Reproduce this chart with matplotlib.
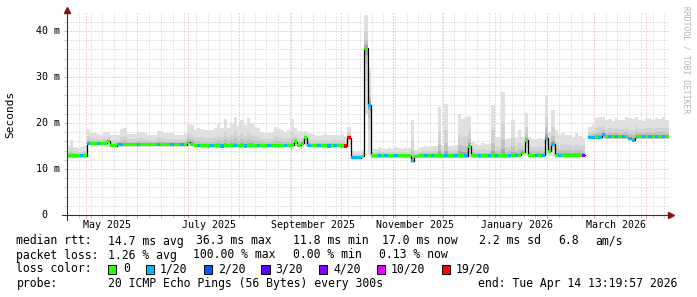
import numpy as np
import matplotlib
matplotlib.use("Agg")
import matplotlib.pyplot as plt
import matplotlib.dates as mdates
from matplotlib.patches import Rectangle
from datetime import datetime, timedelta

W, H = 697, 297
MONO = "DejaVu Sans Mono"
nan = np.nan

t_end = datetime(2026, 4, 14, 13, 19, 57)
t_start = t_end - timedelta(days=360)
bin_days = 2

# median rtt per 2-day bin (ms)
median = [
    12.9, 12.9, 12.9, 12.9, 12.9, 12.9, 15.6, 15.6, 15.6, 15.6,
    15.6, 15.6, 16.0, 15.1, 15.1, 15.3, 15.3, 15.3, 15.3, 15.3,
    15.3, 15.3, 15.3, 15.3, 15.3, 15.3, 15.3, 15.3, 15.3, 15.3,
    15.3, 15.3, 15.3, 15.3, 15.3, 15.3, 15.8, 15.4, 15.2, 15.1,
    15.1, 15.1, 15.0, 15.1, 15.1, 15.1, 15.0, 15.1, 15.1, 15.1,
    15.1, 15.1, 15.1, 15.0, 15.1, 15.1, 15.1, 15.1, 15.1, 15.1,
    15.1, 15.1, 15.1, 15.1, 15.1, 15.2, 15.1, 15.2, 15.9, 15.2,
    15.6, 16.8, 15.2, 15.1, 15.1, 15.1, 15.1, 15.1, 15.0, 15.1,
    15.1, 15.1, 15.0, 15.0, 16.8, 12.5, 12.5, 12.5, 12.8, 36.3,
    23.9, 12.9, 12.9, 12.9, 12.9, 12.9, 12.9, 12.9, 12.9, 12.9,
    12.9, 12.9, 12.9, 11.8, 12.8, 12.9, 12.9, 12.9, 12.9, 12.9,
    12.9, 12.9, 12.9, 12.9, 12.9, 12.9, 12.9, 12.9, 12.9, 12.9,
    14.9, 12.9, 12.9, 12.9, 12.9, 12.9, 12.9, 12.9, 12.9, 12.9,
    12.9, 12.9, 12.9, 13.0, 13.0, 13.0, 13.6, 16.2, 13.0, 13.0,
    13.0, 13.0, 13.0, 16.7, 13.9, 15.4, 13.0, 13.0, 13.0, 13.0,
    13.0, 13.0, 13.0, 13.0, 13.0, nan, 16.9, 16.9, 16.9, 16.9,
    17.5, 17.0, 17.0, 17.0, 17.0, 17.0, 17.0, 17.0, 16.6, 16.3,
    17.0, 17.0, 17.0, 17.0, 17.0, 17.0, 17.0, 17.0, 17.0, 17.0,
]

# highest ping per bin (top of the smoke)
smoke_hi = [
    15.0, 16.3, 14.8, 14.6, 14.7, 15.0, 18.7, 17.8, 17.8, 17.6,
    17.4, 18.0, 18.0, 17.5, 17.5, 17.4, 18.8, 18.9, 17.6, 17.6,
    17.6, 18.1, 18.1, 17.8, 17.5, 17.5, 17.5, 18.2, 18.2, 17.8,
    17.8, 17.8, 17.5, 17.5, 17.5, 17.6, 19.7, 19.6, 18.5, 19.0,
    18.6, 18.5, 18.4, 18.5, 19.0, 19.9, 19.0, 20.8, 19.0, 20.0,
    21.4, 19.4, 20.6, 19.5, 21.0, 19.9, 19.2, 19.0, 18.0, 17.8,
    17.8, 18.0, 19.2, 18.8, 18.4, 18.0, 18.5, 20.8, 19.0, 18.2,
    18.0, 18.3, 17.8, 17.6, 17.5, 17.2, 17.4, 17.6, 17.3, 17.4,
    17.5, 17.4, 17.6, 17.0, 19.2, 14.1, 14.0, 14.0, 14.2, 43.5,
    32.0, 14.6, 14.4, 14.8, 14.5, 14.3, 14.6, 14.4, 14.7, 14.5,
    14.4, 14.6, 14.5, 20.6, 14.2, 14.6, 14.8, 15.0, 14.8, 14.9,
    15.0, 23.4, 15.2, 24.1, 15.0, 15.1, 15.3, 22.0, 20.9, 21.4,
    21.5, 15.8, 15.5, 15.3, 15.6, 15.4, 15.5, 23.9, 17.0, 17.0,
    26.8, 16.5, 16.8, 20.6, 17.0, 18.5, 17.0, 22.1, 17.0, 16.5,
    16.5, 16.8, 16.5, 26.1, 18.0, 22.8, 18.5, 17.5, 17.8, 17.5,
    17.5, 17.0, 17.8, 17.2, 16.8, nan, 19.2, 19.5, 21.0, 21.4,
    21.4, 20.6, 20.8, 20.4, 21.0, 20.6, 20.6, 21.2, 21.0, 20.8,
    21.2, 20.6, 20.4, 21.0, 20.8, 20.6, 21.0, 20.8, 21.2, 20.7,
]

# lowest ping per bin (bottom of the smoke)
smoke_lo = [
    12.5, 12.5, 12.5, 12.5, 12.5, 12.5, 15.2, 15.2, 15.2, 15.2,
    15.2, 15.2, 15.1, 14.7, 14.7, 14.9, 14.9, 14.9, 14.9, 14.9,
    14.9, 14.9, 14.9, 14.9, 14.9, 14.9, 14.9, 14.9, 14.9, 14.9,
    14.9, 14.9, 14.9, 14.9, 14.9, 14.9, 15.0, 15.0, 14.8, 14.7,
    14.7, 14.7, 14.7, 14.7, 14.7, 14.7, 14.7, 14.7, 14.7, 14.7,
    14.7, 14.7, 14.7, 14.7, 14.7, 14.7, 14.7, 14.7, 14.7, 14.7,
    14.7, 14.7, 14.7, 14.7, 14.7, 14.8, 14.7, 14.8, 15.0, 14.8,
    15.0, 15.0, 14.8, 14.7, 14.7, 14.7, 14.7, 14.7, 14.6, 14.7,
    14.7, 14.7, 14.6, 14.6, 14.8, 12.1, 12.1, 12.1, 12.4, 22.0,
    13.0, 12.5, 12.5, 12.5, 12.5, 12.5, 12.5, 12.5, 12.5, 12.5,
    12.5, 12.5, 12.5, 11.4, 12.4, 12.5, 12.5, 12.5, 12.5, 12.5,
    12.5, 12.5, 12.5, 12.5, 12.5, 12.5, 12.5, 12.5, 12.5, 12.5,
    12.7, 12.5, 12.5, 12.5, 12.5, 12.5, 12.5, 12.5, 12.5, 12.5,
    12.5, 12.5, 12.5, 12.6, 12.6, 12.6, 12.8, 13.0, 12.6, 12.6,
    12.6, 12.6, 12.6, 13.0, 12.8, 12.9, 12.6, 12.6, 12.6, 12.6,
    12.6, 12.6, 12.6, 12.6, 12.6, nan, 16.5, 16.5, 16.5, 16.5,
    16.6, 16.6, 16.6, 16.6, 16.6, 16.6, 16.6, 16.6, 16.2, 15.9,
    16.6, 16.6, 16.6, 16.6, 16.6, 16.6, 16.6, 16.6, 16.6, 16.6,
]

# lost pings out of 20 per bin
loss = [
    0, 0, 0, 0, 1, 0, 1, 0, 0, 1,
    0, 0, 0, 0, 0, 1, 1, 0, 0, 0,
    0, 1, 0, 0, 0, 0, 0, 1, 0, 0,
    0, 1, 0, 0, 1, 0, 0, 0, 0, 1,
    0, 0, 0, 1, 0, 0, 1, 0, 0, 0,
    1, 0, 0, 1, 0, 0, 0, 1, 0, 0,
    1, 0, 0, 0, 0, 1, 0, 0, 0, 0,
    0, 0, 1, 0, 0, 1, 0, 0, 1, 0,
    1, 0, 0, 19, 19, 1, 1, 1, 0, 0,
    1, 0, 0, 1, 0, 1, 0, 0, 1, 0,
    0, 0, 0, 1, 0, 0, 0, 1, 0, 1,
    0, 0, 0, 1, 0, 0, 1, 0, 0, 1,
    0, 0, 0, 1, 0, 0, 1, 0, 1, 0,
    0, 0, 1, 0, 1, 0, 0, 0, 0, 0,
    1, 0, 1, 1, 0, 1, 0, 1, 0, 0,
    0, 0, 0, 0, 4, 0, 1, 1, 0, 1,
    1, 0, 1, 0, 1, 0, 1, 0, 1, 1,
    0, 0, 1, 0, 1, 0, 1, 0, 1, 0,
]

loss_levels = [0, 1, 2, 3, 4, 10, 19]
loss_labels = ["0", "1/20", "2/20", "3/20", "4/20", "10/20", "19/20"]
loss_colors = ["#26ff00", "#00b8ff", "#0059ff", "#5e00ff", "#7e00ff", "#dd00ff", "#ff0000"]

ytick_vals = [0, 10, 20, 30, 40]
ytick_labels = ["0  ", "10 m", "20 m", "30 m", "40 m"]
xlabel_months = [(2025, 5, "May 2025"), (2025, 7, "July 2025"), (2025, 9, "September 2025"),
                 (2025, 11, "November 2025"), (2026, 1, "January 2026"), (2026, 3, "March 2026")]

stats_rows = [
    [("median rtt:", 16.4), ("14.7 ms avg", 108), ("36.3 ms max", 195.6), ("11.8 ms min", 293),
     ("17.0 ms now", 382), ("2.2 ms sd", 479), ("6.8", 558), ("am/s", 595.6)],
    [("packet loss:", 16.4), ("1.26 % avg", 108), ("100.00 % max", 193.3), ("0.00 % min", 293.3),
     ("0.13 % now", 379)],
    [("probe:", 16.4), ("20 ICMP Echo Pings (56 Bytes) every 300s", 108),
     ("end: Tue Apr 14 13:19:57 2026", 477.8)],
]
stats_y = [241, 255, 284]
legend_box_x = [108, 145.8, 203.6, 261.3, 319, 377, 442]
legend_text_x = [123, 160, 217.8, 275.6, 333, 391, 455.6]

median = np.array(median, float)
smoke_hi = np.array(smoke_hi, float)
smoke_lo = np.array(smoke_lo, float)
loss = np.array(loss)

x0 = mdates.date2num(t_start)
x1 = mdates.date2num(t_end)
edges = x0 + bin_days * np.arange(len(median) + 1)


def steps(v):
    return np.repeat(edges, 2)[1:-1], np.repeat(v, 2)


fig = plt.figure(figsize=(W / 100, H / 100), dpi=100)
ax = fig.add_axes([66.5 / W, 1 - 215 / H, 602 / W, 202 / H])
ymax = 202 / 4.6
ax.set_xlim(x0, x1)
ax.set_ylim(0, ymax)
for s in ax.spines.values():
    s.set_visible(False)

minor_col = "#cccccc"
major_col = "#eea0a0"

# grid: weekly (sundays) and monthly, 2 ms and 10 ms
months = []
d = datetime(t_start.year, t_start.month, 1)
while d <= t_end:
    if d >= t_start:
        months.append(mdates.date2num(d))
    d = datetime(d.year + (d.month == 12), d.month % 12 + 1, 1)
weeks = []
d = datetime(t_start.year, t_start.month, t_start.day) + timedelta(days=(6 - t_start.weekday()) % 7)
while d <= t_end:
    if d > t_start:
        weeks.append(mdates.date2num(d))
    d += timedelta(days=7)

ax.set_xticks(months)
ax.set_xticks(weeks, minor=True)
ax.set_yticks([10, 20, 30, 40])
ax.set_yticks([v for v in range(2, 44, 2) if v % 10], minor=True)
ax.tick_params(which="both", length=2, width=0.72, labelbottom=False, labelleft=False,
               left=True, right=False, direction="out")
ax.tick_params(which="major", color=major_col)
ax.tick_params(which="minor", color=minor_col)
ax.grid(which="major", color=major_col, lw=0.72, ls=(0, (1, 2)))
ax.grid(which="minor", color=minor_col, lw=0.72, ls=(0, (1, 2)))
ax.set_axisbelow(True)

# smoke
for frac, col in [(1.0, "#e0e0e0"), (0.5, "#d3d3d3"), (0.25, "#c2c2c2"), (0.1, "#a6a6a6")]:
    xs, yt = steps(median + (smoke_hi - median) * frac)
    _, yb = steps(median - (median - smoke_lo) * frac)
    ax.fill_between(xs, yb, yt, color=col, lw=0, zorder=2)

# median line + loss colour
xs, ym = steps(median)
ax.plot(xs, ym, color="black", lw=0.9, zorder=3)
for lv, col in zip(loss_levels, loss_colors):
    xs, ym = steps(np.where(loss == lv, median, np.nan))
    ax.fill_between(xs, ym - 0.33, ym + 0.33, color=col, lw=0, zorder=4)

# axes with arrows
axis_col = "#333333"
ax.plot([0, 0], [-5 / 202, 1.012], transform=ax.transAxes, color=axis_col, lw=0.8,
        clip_on=False, zorder=6)
ax.plot([-5 / 602, 1.004], [0, 0], transform=ax.transAxes, color=axis_col, lw=0.8,
        clip_on=False, zorder=6)
ax.plot([0], [205 / 202], marker="^", ms=4.2, color="#8b1010", transform=ax.transAxes,
        clip_on=False, zorder=7)
ax.plot([604.5 / 602], [0], marker=">", ms=4.2, color="#8b1010", transform=ax.transAxes,
        clip_on=False, zorder=7)

# tick labels
for v, lab in zip(ytick_vals, ytick_labels):
    ax.text(-6.5 / 602, v, lab, transform=ax.get_yaxis_transform(), ha="right", va="center",
            fontsize=7.2, family=MONO)
for yr, mo, lab in xlabel_months:
    xp = mdates.date2num(datetime(yr, mo, 1) + timedelta(days=13))
    ax.text(xp, -10 / 202, lab, transform=ax.get_xaxis_transform(), ha="center", va="center",
            fontsize=7.2, family=MONO)

fig.text(10 / W, 1 - 114 / H, "Seconds", rotation=90, ha="center", va="center",
         fontsize=8, family=MONO)
fig.text(686 / W, 1 - 60 / H, "RRDTOOL / TOBI OETIKER", rotation=270, ha="center",
         va="center", fontsize=5.8, family=MONO, color="#b4b4b4")

# legend rows
for row, yy in zip(stats_rows, stats_y):
    for txt, xx in row:
        fig.text(xx / W, 1 - yy / H, txt, ha="left", va="center", fontsize=8.3, family=MONO)

fig.text(16.4 / W, 1 - 269 / H, "loss color:", ha="left", va="center", fontsize=8.3, family=MONO)
for bx, tx, lab, col in zip(legend_box_x, legend_text_x, loss_labels, loss_colors):
    fig.add_artist(Rectangle((bx / W, 1 - 273.5 / H), 8.4 / W, 9 / H, transform=fig.transFigure,
                             facecolor=col, edgecolor="black", lw=0.7))
    fig.text(tx / W, 1 - 269 / H, lab, ha="left", va="center", fontsize=8.3, family=MONO)

fig.savefig("out.png", dpi=100)
